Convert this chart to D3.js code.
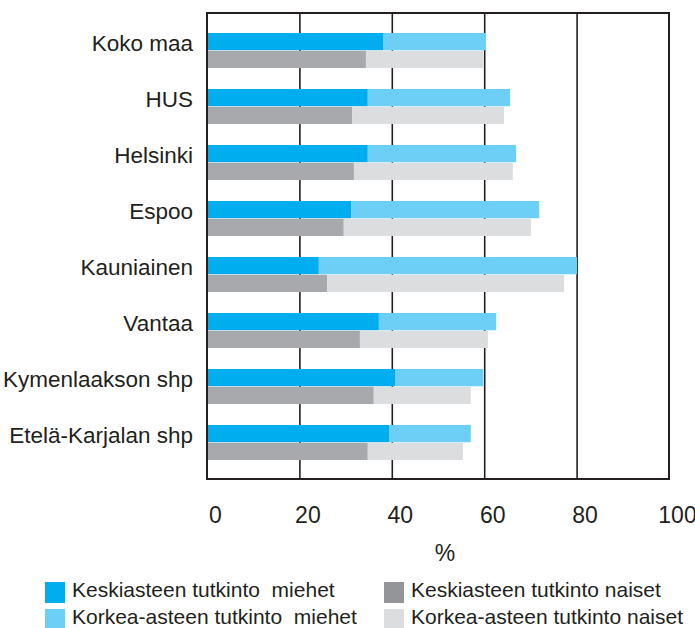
<!DOCTYPE html>
<html>
<head>
<meta charset="utf-8">
<script src="https://cdn.jsdelivr.net/npm/d3@7"></script>
<style>
  body { margin: 0; background: #fff; }
  text { font-family: "Liberation Sans", Arial, sans-serif; fill: #231f20; }
</style>
</head>
<body>
<div id="chart"></div>
<script>
// data (percent)
var regions = ["Koko maa", "HUS", "Helsinki", "Espoo", "Kauniainen", "Vantaa", "Kymenlaakson shp", "Etelä-Karjalan shp"];
var menMid   = [38.1, 34.8, 34.8, 31.2, 24.2, 37.2, 40.7, 39.4];
var menHigh  = [22.3, 30.8, 32.1, 40.7, 55.9, 25.4, 19.1, 17.7];
var womenMid  = [34.4, 31.4, 31.8, 29.6, 26.0, 33.1, 36.1, 34.8];
var womenHigh = [25.4, 32.9, 34.4, 40.5, 51.3, 27.7, 21.0, 20.6];
var xTicks = [0, 20, 40, 60, 80, 100];
var legendLabels = ["Keskiasteen tutkinto  miehet", "Korkea-asteen tutkinto  miehet",
                    "Keskiasteen tutkinto naiset", "Korkea-asteen tutkinto naiset"];

var barColors = { menMid: "#00aeef", menHigh: "#6dcff6", womenMid: "#a7a9ac", womenHigh: "#dcddde" };
var legendColors = ["#00aeef", "#6dcff6", "#939598", "#dcddde"];

var w = 695, h = 628;
var plot = { left: 207, right: 669, top: 13, bottom: 479 };

var svg = d3.select("#chart").append("svg")
  .attr("width", w)
  .attr("height", h);

// Scales
var x = d3.scaleLinear().domain([0, 100]).range([plot.left, plot.right]);

var y = d3.scaleBand()
  .domain(regions)
  .range([22.5, 470.5])
  .paddingInner(0.375)
  .paddingOuter(0.1875);

var ySub = d3.scaleBand()
  .domain(["m", "w"])
  .range([0, y.bandwidth()])
  .paddingInner(0.03);

// gridlines
svg.append("g")
  .attr("transform", "translate(0," + plot.bottom + ")")
  .call(d3.axisBottom(x).tickValues([20, 40, 60, 80]).tickSize(-(plot.bottom - plot.top)).tickFormat(""))
  .call(function(g) { g.select(".domain").remove(); })
  .selectAll("line")
    .attr("stroke", "#231f20")
    .attr("stroke-width", 1.6);

// rows of bars
var rows = regions.map(function(r, i) {
  return [
    { region: r, sex: "m", start: 0, value: menMid[i], color: barColors.menMid },
    { region: r, sex: "m", start: menMid[i], value: menHigh[i], color: barColors.menHigh },
    { region: r, sex: "w", start: 0, value: womenMid[i], color: barColors.womenMid },
    { region: r, sex: "w", start: womenMid[i], value: womenHigh[i], color: barColors.womenHigh }
  ];
});
var segs = [].concat.apply([], rows);

svg.selectAll("rect.bar")
  .data(segs)
  .enter()
  .append("rect")
    .attr("class", "bar")
    .attr("x", function(d) { return x(d.start); })
    .attr("y", function(d) { return y(d.region) + ySub(d.sex); })
    .attr("width", function(d) { return x(d.start + d.value) - x(d.start); })
    .attr("height", ySub.bandwidth())
    .attr("fill", function(d) { return d.color; });

// frame
svg.append("rect")
  .attr("x", plot.left)
  .attr("y", plot.top)
  .attr("width", plot.right - plot.left)
  .attr("height", plot.bottom - plot.top)
  .attr("fill", "none")
  .attr("stroke", "#231f20")
  .attr("stroke-width", 2);

// category labels
svg.selectAll("text.cat")
  .data(regions)
  .enter()
  .append("text")
    .attr("class", "cat")
    .attr("x", 193)
    .attr("y", function(d) { return y(d) + ySub("m") + ySub.bandwidth() / 2 + 2; })
    .attr("dominant-baseline", "central")
    .attr("text-anchor", "end")
    .style("font-size", "22.5px")
    .text(function(d) { return d; });

// x axis labels
var xAxis = svg.append("g")
  .attr("transform", "translate(0," + plot.bottom + ")")
  .call(d3.axisBottom(x).tickValues(xTicks).tickSize(0).tickPadding(28));
xAxis.select(".domain").remove();
xAxis.selectAll("text")
  .attr("dx", 8)
  .style("font-size", "23px")
  .style("font-family", "'Liberation Sans', Arial, sans-serif")
  .attr("fill", "#231f20");

svg.append("text")
  .attr("x", (plot.left + plot.right) / 2 + 7)
  .attr("y", 561)
  .attr("text-anchor", "middle")
  .style("font-size", "23px")
  .text("%");

// legend
var legend = svg.selectAll("g.legend")
  .data(legendLabels)
  .enter()
  .append("g")
    .attr("class", "legend")
    .attr("transform", function(d, i) {
      return "translate(" + (i < 2 ? 45 : 384) + "," + (582 + (i % 2) * 27) + ")";
    });

legend.append("rect")
  .attr("width", 20)
  .attr("height", 21)
  .attr("fill", function(d, i) { return legendColors[i]; });

legend.append("text")
  .attr("x", 27)
  .attr("y", 15)
  .style("font-size", "21px")
  .style("white-space", "pre")
  .text(function(d) { return d; });
</script>
</body>
</html>
